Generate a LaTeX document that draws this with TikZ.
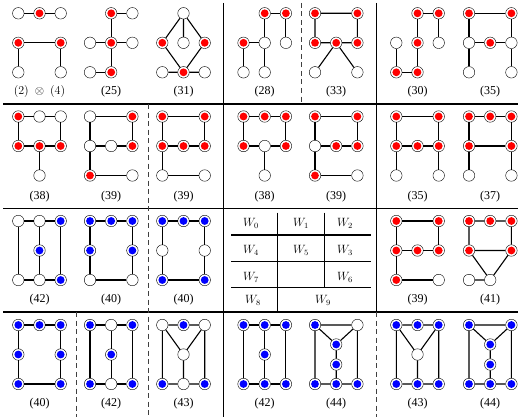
\documentclass[tikz,border=0pt]{standalone}
\usepackage[no-math]{fontspec}
\newfontfamily\labfont{Liberation Serif}
\tikzset{
  vtx/.style={circle, draw=black, line width=0.4pt, fill=white, minimum size=11.5pt, inner sep=0pt},
  wn/.style={vtx},
  rn/.style={vtx, path picture={\fill[red] (path picture bounding box.center) circle (3.9pt);}},
  bn/.style={vtx, path picture={\fill[blue] (path picture bounding box.center) circle (3.9pt);}},
  lnk/.style={line width=1.1pt},
  lab/.style={font=\labfont\fontsize{12}{14}\selectfont},
  cmlab/.style={font=\fontsize{12.5}{14}\selectfont},
  hsep/.style={line width=1.8pt},
  vsep/.style={line width=1.3pt},
  dsep/.style={line width=0.8pt, black!75, dash pattern=on 5pt off 3.5pt},
  tabline/.style={line width=1.1pt},
  wcell/.style={font=\fontsize{12}{14}\selectfont},
  gr/.style={x=21.2pt, y=-29.5pt}
}
\begin{document}
\begin{tikzpicture}[x=1pt, y=-1pt]
    \useasboundingbox (0,0) rectangle (518,417);

    % Separations
    \foreach \y in {104,208.5,312}
        \draw[hsep] (3,\y) -- (518,\y);
    \draw[vsep] (223.5,3) -- (223.5,417);
    \draw[vsep] (376.5,3) -- (376.5,312);
    \draw[dsep] (301,3) -- (301,104);
    \draw[dsep] (148,104) -- (148,417);
    \draw[dsep] (76,312) -- (76,417);
    \draw[dsep] (376.5,312) -- (376.5,417);

    % Ligne 1
    % (2) x (4)
    \begin{scope}[shift={(18.3pt,-13.3pt)}, gr, name prefix=a1-]
        \node[wn] (tl) at (0,0) {}; \node[rn] (tc) at (1,0) {}; \node[wn] (tr) at (2,0) {};
        \node[rn] (ml) at (0,1) {}; \node[rn] (mr) at (2,1) {};
        \node[wn] (bl) at (0,2) {}; \node[wn] (br) at (2,2) {};
        \draw[lnk] (tl) -- (tc) -- (tr) (bl) -- (ml) -- (mr) -- (br);
        \node[cmlab] (lab) at (1,2.66) {$(2)\mkern9mu{\otimes}\mkern9mu(4)$};
    \end{scope}
    % (25)
    \begin{scope}[shift={(90pt,-13.3pt)}, gr, name prefix=a2-]
        \node[rn] (tc) at (1,0) {}; \node[wn] (tr) at (2,0) {};
        \node[wn] (ml) at (0,1) {}; \node[rn] (mc) at (1,1) {}; \node[wn] (mr) at (2,1) {};
        \node[wn] (bl) at (0,2) {}; \node[rn] (bc) at (1,2) {};
        \draw[lnk] (tr) -- (tc) -- (mc) -- (bc) -- (bl) (ml) -- (mc) -- (mr);
        \node[lab] (lab) at (1,2.66) {(25)};
    \end{scope}
    % (31)
    \begin{scope}[shift={(162.3pt,-13.3pt)}, gr, name prefix=a3-]
        \node[wn] (tc) at (1,0) {};
        \node[rn] (ml) at (0,1) {}; \node[wn] (mc) at (1,1) {}; \node[rn] (mr) at (2,1) {};
        \node[wn] (bl) at (0,2) {}; \node[rn] (bc) at (1,2) {}; \node[wn] (br) at (2,2) {};
        \draw[lnk] (tc) -- (ml) -- (bc) -- (mr) -- (tc) -- (mc) (bl) -- (bc) -- (br);
        \node[lab] (lab) at (1,2.66) {(31)};
    \end{scope}
    % (28)
    \begin{scope}[shift={(243.5pt,-13.3pt)}, gr, name prefix=a4-]
        \node[rn] (tc) at (1,0) {}; \node[rn] (tr) at (2,0) {};
        \node[rn] (ml) at (0,1) {}; \node[wn] (mc) at (1,1) {}; \node[wn] (mr) at (2,1) {};
        \node[wn] (bl) at (0,2) {}; \node[wn] (bc) at (1,2) {};
        \draw[lnk] (mr) -- (tr) -- (tc) -- (mc) -- (bc) (bl) -- (ml) -- (mc);
        \node[lab] (lab) at (1,2.66) {(28)};
    \end{scope}
    % (33)
    \begin{scope}[shift={(315pt,-13.3pt)}, gr, name prefix=a5-]
        \node[rn] (tl) at (0,0) {}; \node[rn] (tr) at (2,0) {};
        \node[rn] (ml) at (0,1) {}; \node[rn] (mc) at (1,1) {}; \node[rn] (mr) at (2,1) {};
        \node[wn] (bl) at (0,2) {}; \node[wn] (br) at (2,2) {};
        \draw[lnk] (ml) -- (tl) -- (tr) -- (mr) -- (mc) -- (ml) (bl) -- (mc) -- (br);
        \node[lab] (lab) at (1,2.66) {(33)};
    \end{scope}
    % (30)
    \begin{scope}[shift={(396.3pt,-13.3pt)}, gr, name prefix=a6-]
        \node[rn] (tc) at (1,0) {}; \node[rn] (tr) at (2,0) {};
        \node[wn] (ml) at (0,1) {}; \node[rn] (mc) at (1,1) {}; \node[wn] (mr) at (2,1) {};
        \node[rn] (bl) at (0,2) {}; \node[rn] (bc) at (1,2) {};
        \draw[lnk] (mr) -- (tr) -- (tc) -- (mc) -- (bc) -- (bl) -- (ml);
        \node[lab] (lab) at (1,2.66) {(30)};
    \end{scope}
    % (35)
    \begin{scope}[shift={(469pt,-13.3pt)}, gr, name prefix=a7-]
        \node[rn] (tl) at (0,0) {}; \node[rn] (tr) at (2,0) {};
        \node[wn] (ml) at (0,1) {}; \node[rn] (mc) at (1,1) {}; \node[wn] (mr) at (2,1) {};
        \node[wn] (bl) at (0,2) {}; \node[wn] (br) at (2,2) {};
        \draw[lnk] (bl) -- (ml) -- (tl) -- (tr) -- (mr) -- (br) (ml) -- (mc) -- (mr);
        \node[lab] (lab) at (1,2.66) {(35)};
    \end{scope}

    % Ligne 2
    % (38)
    \begin{scope}[shift={(18.3pt,-116.5pt)}, gr, name prefix=b1-]
        \node[rn] (tl) at (0,0) {}; \node[wn] (tc) at (1,0) {}; \node[wn] (tr) at (2,0) {};
        \node[rn] (ml) at (0,1) {}; \node[rn] (mc) at (1,1) {}; \node[rn] (mr) at (2,1) {};
        \node[wn] (bc) at (1,2) {};
        \draw[lnk] (ml) -- (tl) -- (tc) -- (tr) -- (mr) -- (mc) -- (ml) (mc) -- (bc);
        \node[lab] (lab) at (1,2.72) {(38)};
    \end{scope}
    % (39)
    \begin{scope}[shift={(90pt,-116.5pt)}, gr, name prefix=b2-]
        \node[wn] (tl) at (0,0) {}; \node[rn] (tr) at (2,0) {};
        \node[wn] (ml) at (0,1) {}; \node[wn] (mc) at (1,1) {}; \node[rn] (mr) at (2,1) {};
        \node[rn] (bl) at (0,2) {}; \node[wn] (br) at (2,2) {};
        \draw[lnk] (br) -- (bl) -- (ml) -- (tl) -- (tr) -- (mr) -- (mc) -- (ml);
        \node[lab] (lab) at (1,2.72) {(39)};
    \end{scope}
    % (39)
    \begin{scope}[shift={(162.3pt,-116.5pt)}, gr, name prefix=b3-]
        \node[rn] (tl) at (0,0) {}; \node[rn] (tr) at (2,0) {};
        \node[rn] (ml) at (0,1) {}; \node[rn] (mc) at (1,1) {}; \node[rn] (mr) at (2,1) {};
        \node[wn] (bl) at (0,2) {}; \node[wn] (br) at (2,2) {};
        \draw[lnk] (br) -- (bl) -- (ml) -- (tl) -- (tr) -- (mr) -- (mc) -- (ml);
        \node[lab] (lab) at (1,2.72) {(39)};
    \end{scope}
    % (38)
    \begin{scope}[shift={(243.5pt,-116.5pt)}, gr, name prefix=b4-]
        \node[rn] (tl) at (0,0) {}; \node[rn] (tc) at (1,0) {}; \node[rn] (tr) at (2,0) {};
        \node[rn] (ml) at (0,1) {}; \node[wn] (mc) at (1,1) {}; \node[rn] (mr) at (2,1) {};
        \node[wn] (bc) at (1,2) {};
        \draw[lnk] (ml) -- (tl) -- (tc) -- (tr) -- (mr) -- (mc) -- (ml) (mc) -- (bc);
        \node[lab] (lab) at (1,2.72) {(38)};
    \end{scope}
    % (39)
    \begin{scope}[shift={(315pt,-116.5pt)}, gr, name prefix=b5-]
        \node[rn] (tl) at (0,0) {}; \node[rn] (tr) at (2,0) {};
        \node[wn] (ml) at (0,1) {}; \node[rn] (mc) at (1,1) {}; \node[rn] (mr) at (2,1) {};
        \node[rn] (bl) at (0,2) {}; \node[wn] (br) at (2,2) {};
        \draw[lnk] (br) -- (bl) -- (ml) -- (tl) -- (tr) -- (mr) -- (mc) -- (ml);
        \node[lab] (lab) at (1,2.72) {(39)};
    \end{scope}
    % (35)
    \begin{scope}[shift={(396.3pt,-116.5pt)}, gr, name prefix=b6-]
        \node[rn] (tl) at (0,0) {}; \node[rn] (tr) at (2,0) {};
        \node[rn] (ml) at (0,1) {}; \node[rn] (mc) at (1,1) {}; \node[rn] (mr) at (2,1) {};
        \node[wn] (bl) at (0,2) {}; \node[wn] (br) at (2,2) {};
        \draw[lnk] (bl) -- (ml) -- (tl) -- (tr) -- (mr) -- (br) (ml) -- (mc) -- (mr);
        \node[lab] (lab) at (1,2.72) {(35)};
    \end{scope}
    % (37)
    \begin{scope}[shift={(469pt,-116.5pt)}, gr, name prefix=b7-]
        \node[rn] (tl) at (0,0) {}; \node[rn] (tc) at (1,0) {}; \node[rn] (tr) at (2,0) {};
        \node[rn] (ml) at (0,1) {}; \node[rn] (mr) at (2,1) {};
        \node[wn] (bl) at (0,2) {}; \node[wn] (br) at (2,2) {};
        \draw[lnk] (bl) -- (ml) -- (tl) -- (tc) -- (tr) -- (mr) -- (br) (ml) -- (mr);
        \node[lab] (lab) at (1,2.72) {(37)};
    \end{scope}

    % Ligne 3
    % (42)
    \begin{scope}[shift={(18.3pt,-221pt)}, gr, name prefix=c1-]
        \node[wn] (tl) at (0,0) {}; \node[wn] (tc) at (1,0) {}; \node[bn] (tr) at (2,0) {};
        \node[bn] (mc) at (1,1) {};
        \node[wn] (bl) at (0,2) {}; \node[wn] (bc) at (1,2) {}; \node[bn] (br) at (2,2) {};
        \draw[lnk] (tl) -- (tc) -- (tr) -- (br) -- (bc) -- (bl) -- (tl) (tc) -- (mc) -- (bc);
        \node[lab] (lab) at (1,2.68) {(42)};
    \end{scope}
    % (40)
    \begin{scope}[shift={(90pt,-221pt)}, gr, name prefix=c2-]
        \node[bn] (tl) at (0,0) {}; \node[bn] (tc) at (1,0) {}; \node[bn] (tr) at (2,0) {};
        \node[bn] (ml) at (0,1) {}; \node[bn] (mr) at (2,1) {};
        \node[wn] (bl) at (0,2) {}; \node[wn] (br) at (2,2) {};
        \draw[lnk] (tl) -- (tc) -- (tr) -- (mr) -- (br) -- (bl) -- (ml) -- (tl);
        \node[lab] (lab) at (1,2.68) {(40)};
    \end{scope}
    % (40)
    \begin{scope}[shift={(162.3pt,-221pt)}, gr, name prefix=c3-]
        \node[bn] (tl) at (0,0) {}; \node[bn] (tc) at (1,0) {}; \node[bn] (tr) at (2,0) {};
        \node[wn] (ml) at (0,1) {}; \node[wn] (mr) at (2,1) {};
        \node[bn] (bl) at (0,2) {}; \node[bn] (br) at (2,2) {};
        \draw[lnk] (tl) -- (tc) -- (tr) -- (mr) -- (br) -- (bl) -- (ml) -- (tl);
        \node[lab] (lab) at (1,2.68) {(40)};
    \end{scope}
    % Tableau W
    \draw[tabline] (231,235) -- (371,235) (231,261.7) -- (371,261.7) (231,287.7) -- (371,287.7);
    \draw[tabline] (277.3,212.5) -- (277.3,312) (324.3,212.5) -- (324.3,287.7);
    \foreach \i/\x/\y in {0/251/223.5, 1/301/223.5, 2/345/223.5,
                          4/251/250, 5/301/250, 3/345/250,
                          7/251/277.5, 6/345/277.5, 8/253/300, 9/323/300}
        \node[wcell] (w\i) at (\x,\y) {$W_{\i}$};
    % (39)
    \begin{scope}[shift={(396.3pt,-221pt)}, gr, name prefix=c6-]
        \node[rn] (tl) at (0,0) {}; \node[rn] (tr) at (2,0) {};
        \node[rn] (ml) at (0,1) {}; \node[rn] (mc) at (1,1) {}; \node[rn] (mr) at (2,1) {};
        \node[rn] (bl) at (0,2) {}; \node[wn] (br) at (2,2) {};
        \draw[lnk] (br) -- (bl) -- (ml) -- (tl) -- (tr) -- (mr) -- (mc) -- (ml);
        \node[lab] (lab) at (1,2.68) {(39)};
    \end{scope}
    % (41)
    \begin{scope}[shift={(469pt,-221pt)}, gr, name prefix=c7-]
        \node[rn] (tl) at (0,0) {}; \node[rn] (tc) at (1,0) {}; \node[rn] (tr) at (2,0) {};
        \node[rn] (ml) at (0,1) {}; \node[rn] (mr) at (2,1) {};
        \node[wn] (bl) at (0,2) {}; \node[wn] (bc) at (1,2) {};
        \draw[lnk] (ml) -- (tl) -- (tc) -- (tr) -- (mr) -- (ml) -- (bc) -- (mr) (bl) -- (bc);
        \node[lab] (lab) at (1,2.68) {(41)};
    \end{scope}

    % Ligne 4
    % (40)
    \begin{scope}[shift={(18.3pt,-325pt)}, gr, name prefix=d1-]
        \node[bn] (tl) at (0,0) {}; \node[bn] (tc) at (1,0) {}; \node[bn] (tr) at (2,0) {};
        \node[bn] (ml) at (0,1) {}; \node[bn] (mr) at (2,1) {};
        \node[bn] (bl) at (0,2) {}; \node[bn] (br) at (2,2) {};
        \draw[lnk] (tl) -- (tc) -- (tr) -- (mr) -- (br) -- (bl) -- (ml) -- (tl);
        \node[lab] (lab) at (1,2.68) {(40)};
    \end{scope}
    % (42)
    \begin{scope}[shift={(90pt,-325pt)}, gr, name prefix=d2-]
        \node[bn] (tl) at (0,0) {}; \node[wn] (tc) at (1,0) {}; \node[bn] (tr) at (2,0) {};
        \node[bn] (mc) at (1,1) {};
        \node[bn] (bl) at (0,2) {}; \node[wn] (bc) at (1,2) {}; \node[bn] (br) at (2,2) {};
        \draw[lnk] (tl) -- (tc) -- (tr) -- (br) -- (bc) -- (bl) -- (tl) (tc) -- (mc) -- (bc);
        \node[lab] (lab) at (1,2.68) {(42)};
    \end{scope}
    % (43)
    \begin{scope}[shift={(162.3pt,-325pt)}, gr, name prefix=d3-]
        \node[wn] (tl) at (0,0) {}; \node[bn] (tc) at (1,0) {}; \node[wn] (tr) at (2,0) {};
        \node[wn] (mc) at (1,1) {};
        \node[bn] (bl) at (0,2) {}; \node[wn] (bc) at (1,2) {}; \node[bn] (br) at (2,2) {};
        \draw[lnk] (tl) -- (tc) -- (tr) -- (br) -- (bc) -- (bl) -- (tl) (tl) -- (mc) -- (tr) (mc) -- (bc);
        \node[lab] (lab) at (1,2.68) {(43)};
    \end{scope}
    % (42)
    \begin{scope}[shift={(243.5pt,-325pt)}, gr, name prefix=d4-]
        \node[bn] (tl) at (0,0) {}; \node[bn] (tc) at (1,0) {}; \node[bn] (tr) at (2,0) {};
        \node[bn] (mc) at (1,1) {};
        \node[bn] (bl) at (0,2) {}; \node[bn] (bc) at (1,2) {}; \node[bn] (br) at (2,2) {};
        \draw[lnk] (tl) -- (tc) -- (tr) -- (br) -- (bc) -- (bl) -- (tl) (tc) -- (mc) -- (bc);
        \node[lab] (lab) at (1,2.68) {(42)};
    \end{scope}
    % (44)
    \begin{scope}[shift={(315pt,-325pt)}, gr, name prefix=d5-]
        \node[bn] (tl) at (0,0) {}; \node[wn] (tr) at (2,0) {};
        \node[bn] (m1) at (1,0.66) {}; \node[bn] (m2) at (1,1.34) {};
        \node[bn] (bl) at (0,2) {}; \node[bn] (bc) at (1,2) {}; \node[bn] (br) at (2,2) {};
        \draw[lnk] (tl) -- (tr) -- (br) -- (bc) -- (bl) -- (tl) (tl) -- (m1) -- (tr) (m1) -- (m2) -- (bc);
        \node[lab] (lab) at (1,2.68) {(44)};
    \end{scope}
    % (43)
    \begin{scope}[shift={(396.3pt,-325pt)}, gr, name prefix=d6-]
        \node[bn] (tl) at (0,0) {}; \node[bn] (tc) at (1,0) {}; \node[bn] (tr) at (2,0) {};
        \node[wn] (mc) at (1,1) {};
        \node[bn] (bl) at (0,2) {}; \node[bn] (bc) at (1,2) {}; \node[bn] (br) at (2,2) {};
        \draw[lnk] (tl) -- (tc) -- (tr) -- (br) -- (bc) -- (bl) -- (tl) (tl) -- (mc) -- (tr) (mc) -- (bc);
        \node[lab] (lab) at (1,2.68) {(43)};
    \end{scope}
    % (44)
    \begin{scope}[shift={(469pt,-325pt)}, gr, name prefix=d7-]
        \node[bn] (tl) at (0,0) {}; \node[bn] (tr) at (2,0) {};
        \node[bn] (m1) at (1,0.66) {}; \node[bn] (m2) at (1,1.34) {};
        \node[bn] (bl) at (0,2) {}; \node[bn] (bc) at (1,2) {}; \node[bn] (br) at (2,2) {};
        \draw[lnk] (tl) -- (tr) -- (br) -- (bc) -- (bl) -- (tl) (tl) -- (m1) -- (tr) (m1) -- (m2) -- (bc);
        \node[lab] (lab) at (1,2.68) {(44)};
    \end{scope}
\end{tikzpicture}
\end{document}
